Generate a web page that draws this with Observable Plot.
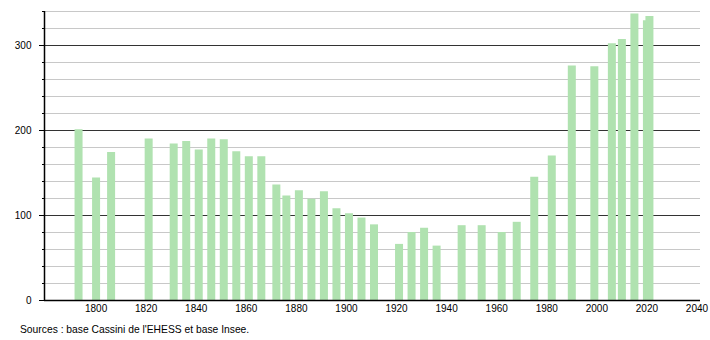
<!DOCTYPE html>
<html>
<head>
<meta charset="utf-8">
<script src="https://cdn.jsdelivr.net/npm/d3@7"></script>
<script src="https://cdn.jsdelivr.net/npm/@observablehq/plot@0.6"></script>
<style>
  html, body { margin: 0; padding: 0; background: #fff; }
  figure { margin: 0; }
  figcaption { font-family: "Liberation Sans", Arial, sans-serif; font-size: 10.3px; color: #000; padding-left: 20px; line-height: 20px; }
</style>
</head>
<body>
<div id="chart"></div>
<script>
const years = [1793,1800,1806,1821,1831,1836,1841,1846,1851,1856,1861,1866,1872,1876,1881,1886,1891,1896,1901,1906,1911,1921,1926,1931,1936,1946,1954,1962,1968,1975,1982,1990,1999,2006,2010,2015,2020,2021];
const population = [201,144,174,190,184,187,177,190,189,175,169,169,136,123,129,119,128,108,102,97,89,66,80,85,64,88,88,80,92,145,170,276,275,302,307,337,329,334];
const xTicks = [1800,1820,1840,1860,1880,1900,1920,1940,1960,1980,2000,2020,2040];
const yMajor = [0,100,200,300];
const yMinor = d3.range(0, 341, 20);
const xDomain = [1779.4, 2041.4];
const yDomain = [0, 340];
const caption = "Sources : base Cassini de l'EHESS et base Insee.";

const data = years.map((year, i) => ({year, pop: population[i]}));

const chart = Plot.plot({
  width: 710,
  height: 320,
  marginLeft: 44,
  marginRight: 10,
  marginTop: 11,
  marginBottom: 20,
  style: {fontFamily: '"Liberation Sans", Arial, sans-serif', fontSize: "10px", background: "#fff", color: "#000"},
  x: {domain: xDomain},
  y: {domain: yDomain},
  marks: [
    Plot.ruleY(yMinor.filter(v => !yMajor.includes(v)), {stroke: "#c8c8c8", strokeWidth: 1}),
    Plot.ruleY(yMajor.filter(v => v > 0), {stroke: "#333", strokeWidth: 1}),
    Plot.ruleX(data, {x: "year", y1: 0, y2: "pop", stroke: "#b0e2b0", strokeWidth: 8}),
    Plot.axisY({ticks: yMinor, tickSize: 2, tickFormat: null, text: null, label: null, stroke: "#000"}),
    Plot.axisY({ticks: yMajor, tickSize: 5, tickPadding: 8, label: null, stroke: "#000"}),
    Plot.axisX({ticks: xTicks, tickSize: 0, tickPadding: 4, tickFormat: d => String(d), label: null}),
    Plot.ruleX([xDomain[0]], {stroke: "#000", strokeWidth: 1.5}),
    Plot.ruleY([0], {stroke: "#000", strokeWidth: 1.5})
  ]
});
document.getElementById("chart").appendChild(chart);
const cap = document.createElement("figcaption");
cap.textContent = caption;
document.getElementById("chart").appendChild(cap);
</script>
</body>
</html>
